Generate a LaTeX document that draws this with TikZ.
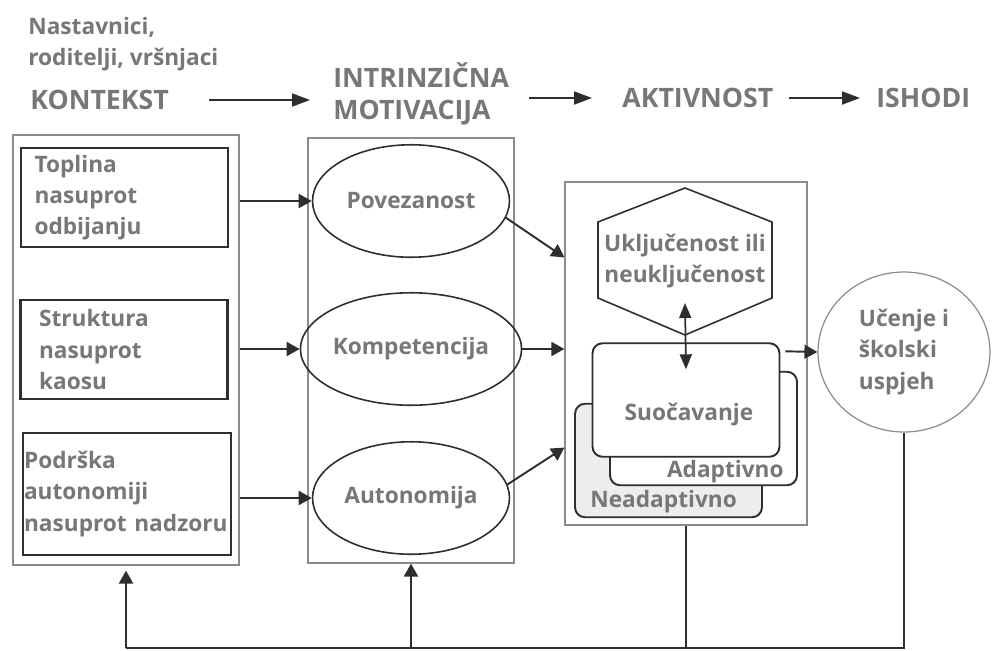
\documentclass[tikz,border=0pt]{standalone}
\usepackage{fontspec}
\setmainfont{Open Sans}
\usetikzlibrary{positioning,arrows.meta,calc,shapes.geometric}
\definecolor{txtgray}{HTML}{777777}
\definecolor{linedark}{HTML}{2E2E2E}
\definecolor{boxgray}{HTML}{8C8C8C}
\tikzset{
  hdr/.style={font=\fontsize{15.2}{18.5}\selectfont\bfseries,text=txtgray,align=left,inner sep=0pt},
  lbl/.style={font=\fontsize{12.9}{17.8}\selectfont\bfseries,text=txtgray,inner sep=0pt},
  okvir/.style={rectangle,draw=boxgray,line width=0.7pt},
  ctxitem/.style={lbl,rectangle,draw=linedark,line width=1.2pt,align=left,text width=3.6cm,inner xsep=0.27cm,minimum height=1.98cm},
  need/.style={lbl,ellipse,draw=linedark,line width=0.9pt,minimum width=3.94cm,minimum height=2.25cm,inner sep=0pt},
  copebox/.style={rectangle,rounded corners=0.2cm,draw=linedark,line width=1.1pt,fill=white,minimum width=3.74cm,minimum height=2.27cm},
  outcome/.style={lbl,ellipse,draw=boxgray,line width=0.7pt,minimum width=3.44cm,minimum height=3.2cm,align=left},
  hexline/.style={draw=linedark,line width=0.9pt,line join=miter},
  sip/.style={-{Triangle[length=0.26cm,width=0.28cm]},draw=linedark,line width=1.1pt},
  hsip/.style={-{Triangle[length=0.36cm,width=0.26cm]},draw=linedark,line width=1.1pt},
  dsip/.style={{Triangle[length=0.3cm,width=0.24cm]}-{Triangle[length=0.3cm,width=0.24cm]},draw=linedark,line width=1pt},
  veza/.style={draw=linedark,line width=0.8pt},
}
\begin{document}
\begin{tikzpicture}[x=0.02cm,y=-0.02cm]
  \useasboundingbox (0,0) rectangle (993,650);
  % naslovi
  \node[lbl,align=left,anchor=west] (who) at (28,44) {Nastavnici,\\roditelji, vršnjaci};
  \node[hdr,anchor=west] (ctxhd) at (30,100) {KONTEKST};
  \node[hdr,anchor=west] (mothd) at (333,94) {INTRINZIČNA\\MOTIVACIJA};
  \node[hdr,anchor=west] (akthd) at (622,98) {AKTIVNOST};
  \node[hdr,anchor=west] (ishd) at (876,98) {ISHODI};
  \draw[hsip,shorten <=0.8cm,shorten >=0.46cm] (ctxhd.east) -- (ctxhd.east -| mothd.west);
  \draw[hsip,shorten <=0.4cm,shorten >=0.6cm] (mothd.east |- akthd.west) -- (akthd.west);
  \draw[hsip,shorten <=0.3cm,shorten >=0.32cm] (akthd.east) -- (ishd.west);

  % kontekst
  \node[okvir,minimum width=4.52cm,minimum height=8.6cm] (ctx) at (126,350) {};
  \node[ctxitem] (warm) at (124.5,197.5) {Toplina\\nasuprot\\odbijanju};
  \node[ctxitem,inner xsep=0.37cm,text width=3.4cm] (struct) at (124,349.5) {Struktura\\nasuprot\\kaosu};
  \node[ctxitem,text width=4.12cm,inner xsep=0.02cm,minimum height=2.44cm] (supp) at (127,494) {Podrška\\autonomiji\\\mbox{nasuprot nadzoru}};

  % motivacija
  \node[okvir,minimum width=4.12cm,minimum height=8.5cm] (mot) at (411,350.5) {};
  \node[need] (rel) at (411,201) {Povezanost};
  \node[need] (comp) at (411,349) {Kompetencija};
  \node[need] (autn) at (411,498) {Autonomija};

  % aktivnost
  \node[okvir,minimum width=4.84cm,minimum height=6.86cm] (akt) at (686,353.5) {};
  \node[lbl,align=center] (eng) at (685,261) {Uključenost ili\\neuključenost};
  \draw[hexline] ($(eng)+(0,-73)$) -- ++(87,34) -- ++(0,76) -- ++(-87,37) -- ++(-87,-37) -- ++(0,-76) -- cycle;
  \node[copebox,fill=black!7] (nead) at (668.5,460.5) {};
  \node[lbl,anchor=west] (neadtxt) at (590,502) {Neadaptivno};
  \node[copebox] (adapt) at (703.5,428.5) {};
  \node[lbl,anchor=east] (adapttxt) at (784,472) {Adaptivno};
  \node[copebox] (cope) at (686,400) {};
  \node[lbl] (copetxt) at (689,415) {Suočavanje};
  \draw[dsip] ($(eng)+(0,42)$) -- ($(cope.north)+(0,27)$);

  % ishodi
  \node[outcome] (learn) at (904,352) {Učenje i\\školski\\uspjeh};

  \draw[sip] (rel.west -| ctx.east) -- (rel.west);
  \draw[sip] (comp.west -| ctx.east) -- (comp.west);
  \draw[sip] (autn.west -| ctx.east) -- (autn.west);
  \draw[sip] (rel.-10) -- ($(akt.north west)+(0,76)$);
  \draw[sip] (comp.east) -- (comp.east -| akt.west);
  \draw[sip] (autn.8) -- ($(akt.south west)+(0,-78)$);
  \draw[sip] ($(cope.north east)+(5,9)$) -- (learn.west);

  % povratna veza
  \coordinate (base) at (0,648);
  \draw[veza] (learn.south) |- (base -| ctx.south);
  \draw[veza] (akt.south) -- (akt.south |- base);
  \draw[sip,shorten >=0.1cm] (base -| ctx.south) -- (ctx.south);
  \draw[sip] (base -| mot.south) -- (mot.south);
\end{tikzpicture}
\end{document}
